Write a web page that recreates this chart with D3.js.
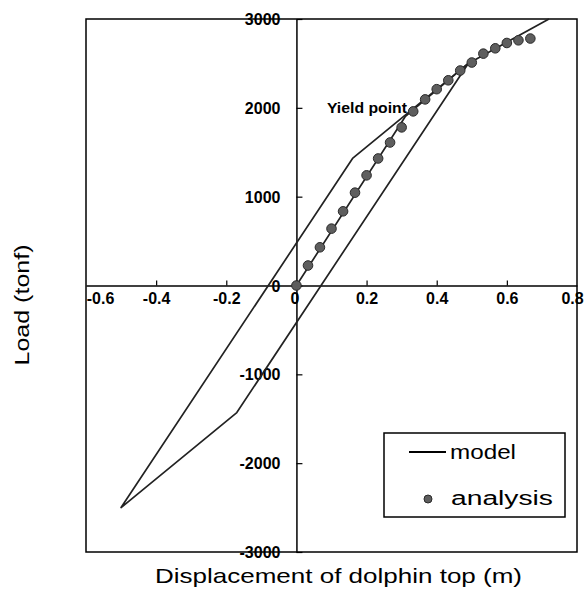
<!DOCTYPE html>
<html lang="en">
  <head>
    <meta charset="UTF-8" />
    <title>Load - displacement</title>
    <script src="https://d3js.org/d3.v7.min.js"></script>
    <style>
      body { margin: 0; background: #fff; }
      svg { display: block; font-family: "Liberation Sans", Arial, sans-serif; }
    </style>
  </head>
  <body>
    <div id="chart"></div>
    <script>
      // tick labels
      const xTicks = [-0.6, -0.4, -0.2, 0, 0.2, 0.4, 0.6, 0.8];
      const yTicks = [-3000, -2000, -1000, 0, 1000, 2000, 3000];

      // analysis results (dots)
      const analysisDisp = [0, 0.033, 0.067, 0.1, 0.133, 0.167, 0.2, 0.233, 0.267, 0.3, 0.333,
        0.367, 0.4, 0.433, 0.467, 0.5, 0.533, 0.567, 0.6, 0.633, 0.667];
      const analysisLoad = [0, 225, 430, 640, 835, 1045, 1240, 1430, 1610, 1780, 1960,
        2095, 2210, 2310, 2420, 2510, 2610, 2670, 2730, 2760, 2780];

      // model: skeleton curve and hysteresis loop
      const skeletonDisp = [0, 0.31, 0.49, 0.72];
      const skeletonLoad = [0, 1900, 2500, 3000];
      const loopDisp = [0.49, -0.17, -0.5, 0.16, 0.49];
      const loopLoad = [2500, -1430, -2500, 1430, 2500];

      const width = 586, height = 590;
      const x = d3.scaleLinear().domain([-0.6, 0.8]).range([86, 577]);
      const y = d3.scaleLinear().domain([-3000, 3000]).range([552, 19]);

      const svg = d3.select("#chart").append("svg")
        .attr("width", width).attr("height", height);

      svg.append("rect").attr("width", width).attr("height", height).attr("fill", "#fff");

      // frame
      svg.append("rect")
        .attr("x", x(-0.6)).attr("y", y(3000))
        .attr("width", x(0.8) - x(-0.6)).attr("height", y(-3000) - y(3000))
        .attr("fill", "none").attr("stroke", "#000").attr("stroke-width", 1.5);

      const fmtX = (d) => (d === 0 ? "0" : (d < 0 ? "-" : "") + Math.abs(d).toFixed(1));
      const fmtY = (d) => (d < 0 ? "-" : "") + Math.abs(d);

      const xAxis = svg.append("g")
        .attr("transform", `translate(0,${y(0)})`)
        .call(d3.axisBottom(x).tickValues(xTicks).tickFormat(fmtX)
          .tickSizeInner(-5).tickSizeOuter(0).tickPadding(7));

      const yAxis = svg.append("g")
        .attr("transform", `translate(${x(0)},0)`)
        .call(d3.axisLeft(y).tickValues(yTicks).tickFormat(fmtY)
          .tickSizeInner(-6).tickSizeOuter(0).tickPadding(16));

      [xAxis, yAxis].forEach((g) => {
        g.select(".domain").attr("stroke", "#000").attr("stroke-width", 1.5);
        g.selectAll(".tick line").attr("stroke", "#000").attr("stroke-width", 1.2);
        g.selectAll(".tick text")
          .attr("fill", "#000")
          .style("font-family", "'Liberation Sans', Arial, sans-serif")
          .style("font-weight", "bold")
          .style("font-size", "16px");
      });
      yAxis.selectAll(".tick text").attr("dy", "0.35em");
      // end labels sit just inside the frame
      xAxis.selectAll(".tick text")
        .attr("x", (d) => (d === -0.6 ? 14 : d === 0.8 ? -5 : d === 0 ? -2 : 0));
      xAxis.selectAll(".tick line").filter((d) => d === -0.6 || d === 0.8).remove();

      const line = d3.line().x((d) => x(d[0])).y((d) => y(d[1]));
      const model = svg.append("g").attr("fill", "none").attr("stroke", "#222")
        .attr("stroke-width", 1.7).attr("stroke-linejoin", "round");
      model.append("path").attr("d", line(skeletonDisp.map((d, i) => [d, skeletonLoad[i]])));
      model.append("path").attr("d", line(loopDisp.map((d, i) => [d, loopLoad[i]])));

      svg.append("g").selectAll("circle")
        .data(analysisDisp.map((d, i) => [d, analysisLoad[i]]))
        .join("circle")
        .attr("cx", (d) => x(d[0])).attr("cy", (d) => y(d[1]))
        .attr("r", 4.8)
        .attr("fill", "#5e5e5e").attr("stroke", "#2a2a2a").attr("stroke-width", 1);

      svg.append("text")
        .attr("x", x(0.087)).attr("y", y(2000))
        .attr("dy", "0.35em")
        .attr("textLength", 80).attr("lengthAdjust", "spacingAndGlyphs")
        .style("font-size", "14px").style("font-weight", "bold")
        .text("Yield point");

      // legend
      const lg = svg.append("g");
      lg.append("rect").attr("x", 384).attr("y", 433).attr("width", 181).attr("height", 84)
        .attr("fill", "#fff").attr("stroke", "#000").attr("stroke-width", 1.5);
      lg.append("line").attr("x1", 409).attr("x2", 446).attr("y1", 452).attr("y2", 452)
        .attr("stroke", "#000").attr("stroke-width", 2);
      lg.append("text").attr("x", 450).attr("y", 452).attr("dy", "0.35em")
        .attr("textLength", 66).attr("lengthAdjust", "spacingAndGlyphs")
        .style("font-size", "20px").text("model");
      lg.append("circle").attr("cx", 428).attr("cy", 499).attr("r", 4)
        .attr("fill", "#5e5e5e").attr("stroke", "#2a2a2a");
      lg.append("text").attr("x", 451).attr("y", 498).attr("dy", "0.35em")
        .attr("textLength", 102).attr("lengthAdjust", "spacingAndGlyphs")
        .style("font-size", "20px").text("analysis");

      // axis titles
      svg.append("text")
        .attr("x", 155).attr("y", 576).attr("dy", "0.35em")
        .attr("textLength", 367).attr("lengthAdjust", "spacingAndGlyphs")
        .style("font-size", "21px").text("Displacement of dolphin top (m)");
      svg.append("text")
        .attr("transform", "translate(22,305) rotate(-90)")
        .attr("text-anchor", "middle").attr("dy", "0.35em")
        .attr("textLength", 121).attr("lengthAdjust", "spacingAndGlyphs")
        .style("font-size", "20px").text("Load (tonf)");
    </script>
  </body>
</html>
